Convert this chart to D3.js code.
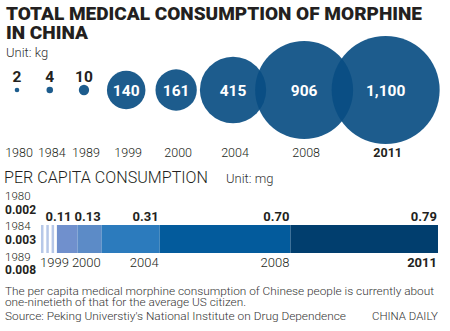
<!DOCTYPE html>
<html>
<head>
<meta charset="utf-8">
<script src="https://cdn.jsdelivr.net/npm/d3@7"></script>
<style>
  body { margin: 0; background: #fff; }
  text { font-family: Roboto, "Noto Sans", sans-serif; }
</style>
</head>
<body>
<script>
// values
const years = ["1980", "1984", "1989", "1999", "2000", "2004", "2008", "2011"]
const totalKg = [2, 4, 10, 140, 161, 415, 906, 1100]
const perCapitaMg = [0.002, 0.003, 0.008, 0.11, 0.13, 0.31, 0.70, 0.79]
const perCapitaLabels = ["0.002", "0.003", "0.008", "0.11", "0.13", "0.31", "0.70", "0.79"]
const segColors = ["#b7c8e8", "#b7c8e8", "#b7c8e8", "#7090cd", "#5c8bc7", "#2c7bbd", "#035b9c", "#013e6e"]
const footLines = [
  "The per capita medical morphine consumption of Chinese people is currently about",
  "one-ninetieth of that for the average US citizen.",
  "Source: Peking Universtiy's National Institute on Drug Dependence"
]

const W = 450, H = 331
const svg = d3.select("body").append("svg")
  .attr("width", W)
  .attr("height", H)

const dark = "#231f20"

// ---- titles
svg.append("text")
  .attr("x", 6).attr("y", 20)
  .attr("textLength", 416).attr("lengthAdjust", "spacingAndGlyphs")
  .attr("font-size", 17.5).attr("font-weight", 900).attr("fill", dark)
  .text("TOTAL MEDICAL CONSUMPTION OF MORPHINE")
svg.append("text")
  .attr("x", 6).attr("y", 39)
  .attr("textLength", 82).attr("lengthAdjust", "spacingAndGlyphs")
  .attr("font-size", 17.5).attr("font-weight", 900).attr("fill", dark)
  .text("IN CHINA")
svg.append("text")
  .attr("x", 6).attr("y", 57)
  .attr("font-size", 13).attr("font-weight", 300).attr("fill", "#333")
  .text("Unit: kg")

// ---- bubbles
const r = d3.scaleSqrt().domain([0, d3.max(totalKg)]).range([0, 54])
const cy = 90
const cx = []
totalKg.forEach((v, i) => {
  if (i == 0) cx.push(17)
  else cx.push(cx[i - 1] + 30 + 0.5 * (r(totalKg[i - 1]) + r(v)))
})
const fmt = d3.format(",")

svg.selectAll("circle.kg")
  .data(totalKg)
  .enter()
    .append("circle")
    .attr("class", "kg")
    .attr("cx", (d, i) => cx[i])
    .attr("cy", cy)
    .attr("r", (d) => r(d))
    .attr("fill", "#094d83")
    .attr("fill-opacity", 0.916)

svg.selectAll("text.kg")
  .data(totalKg)
  .enter()
    .append("text")
    .attr("class", "kg")
    .attr("x", (d, i) => cx[i])
    .attr("y", (d) => r(d) < 10 ? 82 : cy + 5.5)
    .attr("text-anchor", "middle")
    .attr("font-size", 15.5).attr("font-weight", 700)
    .attr("fill", (d) => r(d) < 10 ? dark : "#fff")
    .text((d) => fmt(d))

svg.selectAll("text.yr")
  .data(years)
  .enter()
    .append("text")
    .attr("class", "yr")
    .attr("x", (d, i) => cx[i] + 2)
    .attr("y", 157)
    .attr("text-anchor", "middle")
    .attr("font-size", 12.5)
    .attr("font-weight", (d, i) => i == years.length - 1 ? 700 : 300)
    .attr("fill", dark)
    .text((d) => d)

// ---- per capita
svg.append("text")
  .attr("x", 4).attr("y", 183)
  .attr("textLength", 204).attr("lengthAdjust", "spacingAndGlyphs")
  .attr("font-size", 17).attr("font-weight", 300).attr("fill", dark)
  .text("PER CAPITA CONSUMPTION")
svg.append("text")
  .attr("x", 226).attr("y", 183)
  .attr("font-size", 13).attr("font-weight", 300).attr("fill", "#333")
  .text("Unit: mg")

const barX0 = 41, barX1 = 438, barY = 225, barH = 28
const minW = 5.3
const small = perCapitaMg.filter((v) => v < 0.05)
const x = d3.scaleLinear()
  .domain([0, d3.sum(perCapitaMg.filter((v) => v >= 0.05))])
  .range([0, barX1 - barX0 - small.length * minW])

const segs = []
let pos = barX0
perCapitaMg.forEach((v, i) => {
  const w = v < 0.05 ? minW : x(v)
  segs.push({ v: v, i: i, x: pos, w: w, thin: v < 0.05 })
  pos += w
})

svg.selectAll("rect.seg")
  .data(segs)
  .enter()
    .append("rect")
    .attr("class", "seg")
    .attr("x", (d) => d.x)
    .attr("y", barY)
    .attr("width", (d) => d.thin ? d.w - 2.8 : d.w)
    .attr("height", barH)
    .attr("fill", (d) => segColors[d.i])

// right-aligned labels on the big segments, pushed left if they would collide
function rowLabels(cls, y, textFn, weightFn) {
  const big = segs.filter((d) => !d.thin)
  const sel = svg.selectAll("text." + cls)
    .data(big)
    .enter()
      .append("text")
      .attr("class", cls)
      .attr("y", y)
      .attr("text-anchor", "end")
      .attr("font-size", 13)
      .attr("font-weight", weightFn)
      .attr("fill", dark)
      .text(textFn)
  const nodes = sel.nodes()
  let nextLeft = Infinity
  for (let k = nodes.length - 1; k >= 0; k--) {
    const d = big[k]
    const len = nodes[k].getComputedTextLength()
    const xr = Math.min(d.x + d.w - 1, nextLeft - 3)
    d3.select(nodes[k]).attr("x", xr)
    nextLeft = xr - len
  }
}
rowLabels("val", 221, (d) => perCapitaLabels[d.i], 700)
rowLabels("byr", 267, (d) => years[d.i], (d) => d.i == years.length - 1 ? 700 : 300)

// the three tiny years on the left
small.forEach((v, i) => {
  svg.append("text")
    .attr("x", 5).attr("y", 199.5 + i * 30.75)
    .attr("font-size", 11.5).attr("font-weight", 300).attr("fill", dark)
    .text(years[i])
  svg.append("text")
    .attr("x", 5).attr("y", 214 + i * 29.75)
    .attr("font-size", 12).attr("font-weight", 700).attr("fill", dark)
    .text(perCapitaLabels[i])
})

// ---- footer
const footW = [429, 241, 341]
const footY = [294.5, 306, 320]
footLines.forEach((t, i) => {
  svg.append("text")
    .attr("x", 5).attr("y", footY[i])
    .attr("textLength", footW[i]).attr("lengthAdjust", "spacingAndGlyphs")
    .attr("font-size", 11).attr("font-weight", 300).attr("fill", "#333")
    .text(t)
})
svg.append("text")
  .attr("x", 438).attr("y", 320)
  .attr("text-anchor", "end")
  .attr("textLength", 66).attr("lengthAdjust", "spacingAndGlyphs")
  .attr("font-size", 11.5).attr("font-weight", 300).attr("fill", "#333")
  .text("CHINA DAILY")
</script>
</body>
</html>
